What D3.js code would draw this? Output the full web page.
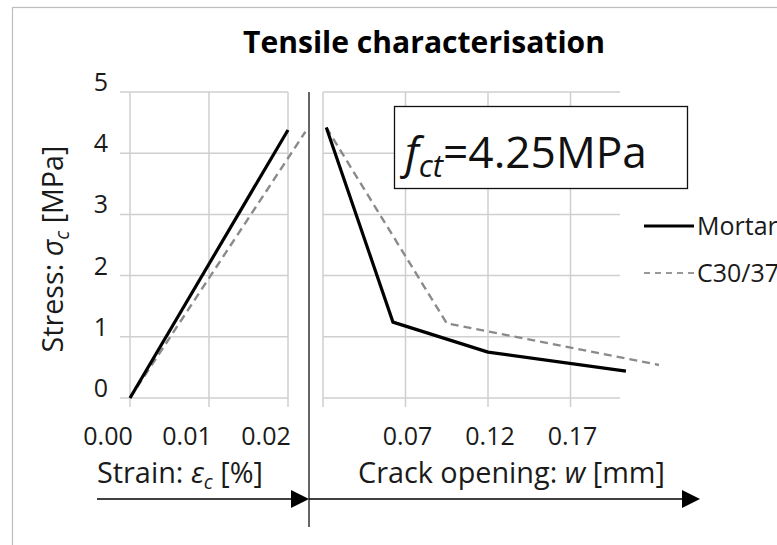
<!DOCTYPE html>
<html><head><meta charset="utf-8">
<script src="https://cdn.jsdelivr.net/npm/d3@7"></script>
<style>html,body{margin:0;padding:0;background:#fff;overflow:hidden}</style>
</head><body>
<script>
// ---- data ----
const stressTicks = [0, 1, 2, 3, 4, 5];
const strainTicks = [0.00, 0.01, 0.02];
const crackGrid = [0.02, 0.07, 0.12, 0.17];
const crackTickLabels = [0.07, 0.12, 0.17];
const seriesNames = ["Mortar", "C30/37"];
// strain branch [strain %, stress MPa]
const mortarStrain = [[0, 0], [0.020, 4.38]];
const c30Strain = [[0, 0], [0.0222, 4.35]];
// crack branch [w mm, stress MPa]
const mortarCrack = [[0.022, 4.42], [0.0624, 1.24], [0.12, 0.75], [0.2036, 0.44]];
const c30Crack = [[0.022, 4.42], [0.095, 1.22], [0.2236, 0.54]];
const fctValue = "4.25";

const W = 777, H = 545;
const FONT = "'Open Sans', 'Noto Sans', sans-serif";
const svg = d3.select("body").append("svg").attr("width", W).attr("height", H)
  .style("font-family", FONT);

// outer frame
svg.append("rect").attr("x", 12.5).attr("y", 7.5).attr("width", 820).attr("height", 600)
  .attr("fill", "#fff").attr("stroke", "#bdbdbd").attr("stroke-width", 1.2);

const y = d3.scaleLinear().domain([0, 5]).range([398, 92]);
const xL = d3.scaleLinear().domain([0, 0.02]).range([130, 288]);
const xR = d3.scaleLinear().domain([0.02, 0.2]).range([323, 620]);

const gridColor = "#cfcfcf";
// left panel grid
const gL = svg.append("g");
gL.selectAll("line.h").data(stressTicks).join("line")
  .attr("x1", xL(0) - 10).attr("x2", xL(0.02)).attr("y1", d => y(d)).attr("y2", d => y(d))
  .attr("stroke", gridColor).attr("stroke-width", 1.5);
gL.selectAll("line.v").data(strainTicks).join("line")
  .attr("x1", d => xL(d)).attr("x2", d => xL(d)).attr("y1", y(5)).attr("y2", y(0) + 9)
  .attr("stroke", gridColor).attr("stroke-width", 1.5);
// right panel grid
const gR = svg.append("g");
gR.selectAll("line.h").data(stressTicks).join("line")
  .attr("x1", xR(0.02)).attr("x2", xR(0.2)).attr("y1", d => y(d)).attr("y2", d => y(d))
  .attr("stroke", gridColor).attr("stroke-width", 1.5);
gR.selectAll("line.v").data(crackGrid).join("line")
  .attr("x1", d => xR(d)).attr("x2", d => xR(d)).attr("y1", y(5)).attr("y2", y(0) + 9)
  .attr("stroke", gridColor).attr("stroke-width", 1.5);

// tick labels
svg.append("g").selectAll("text").data(stressTicks).join("text")
  .attr("x", 108).attr("y", d => y(d) - 1).attr("text-anchor", "end")
  .attr("font-size", 25).attr("fill", "#1a1a1a").text(d => d);
svg.append("g").selectAll("text").data(strainTicks).join("text")
  .attr("x", d => xL(d) - 22).attr("y", 445).attr("text-anchor", "middle")
  .attr("font-size", 25).attr("fill", "#1a1a1a").text(d => d3.format(".2f")(d));
svg.append("g").selectAll("text").data(crackTickLabels).join("text")
  .attr("x", d => xR(d) + 2).attr("y", 445).attr("text-anchor", "middle")
  .attr("font-size", 25).attr("fill", "#1a1a1a").text(d => d3.format(".2f")(d));

// series
const lineL = d3.line().x(d => xL(d[0])).y(d => y(d[1]));
const lineR = d3.line().x(d => xR(d[0])).y(d => y(d[1]));
const dashStyle = {stroke: "#8a8a8a", width: 2.4, dash: "8,5"};
svg.append("path").datum(c30Strain).attr("d", lineL).attr("fill", "none")
  .attr("stroke", dashStyle.stroke).attr("stroke-width", dashStyle.width).attr("stroke-dasharray", dashStyle.dash);
svg.append("path").datum(c30Crack).attr("d", lineR).attr("fill", "none")
  .attr("stroke", dashStyle.stroke).attr("stroke-width", dashStyle.width).attr("stroke-dasharray", dashStyle.dash);
svg.append("path").datum(mortarStrain).attr("d", lineL).attr("fill", "none")
  .attr("stroke", "#000").attr("stroke-width", 3.2).attr("stroke-linejoin", "round");
svg.append("path").datum(mortarCrack).attr("d", lineR).attr("fill", "none")
  .attr("stroke", "#000").attr("stroke-width", 3.2).attr("stroke-linejoin", "round");

// separator
svg.append("line").attr("x1", 309).attr("x2", 309).attr("y1", 92).attr("y2", 527)
  .attr("stroke", "#333").attr("stroke-width", 1.5);

// arrows
function arrow(x1, x2, yy) {
  svg.append("line").attr("x1", x1).attr("x2", x2 - 16).attr("y1", yy).attr("y2", yy)
    .attr("stroke", "#000").attr("stroke-width", 1.6);
  svg.append("path").attr("d", `M${x2 - 18},${yy - 9}L${x2},${yy}L${x2 - 18},${yy + 9}Z`).attr("fill", "#000");
}
arrow(97, 309, 499);
arrow(309, 700, 499);

function fit(sel, target) {
  const w = sel.node().getComputedTextLength();
  const fs = parseFloat(sel.attr("font-size"));
  if (w > 0) sel.attr("font-size", fs * target / w);
}

// title
const title = svg.append("text").attr("x", 424).attr("y", 53).attr("text-anchor", "middle")
  .attr("font-size", 26).attr("font-weight", "bold").attr("fill", "#000").text("Tensile characterisation");
fit(title, 362);

// y axis title
const yt = svg.append("text").attr("transform", "translate(63,249) rotate(-90)")
  .attr("text-anchor", "middle").attr("font-size", 25).attr("fill", "#1a1a1a");
yt.append("tspan").text("Stress: ");
yt.append("tspan").attr("font-style", "italic").text("σ");
yt.append("tspan").attr("font-style", "italic").attr("font-size", "0.68em").attr("dy", "0.3em").text("c");
yt.append("tspan").attr("dy", "-0.2em").text(" [MPa]");
fit(yt, 207);

// x axis titles
const xt1 = svg.append("text").attr("x", 97).attr("y", 483).attr("font-size", 25).attr("fill", "#1a1a1a");
xt1.append("tspan").text("Strain: ");
xt1.append("tspan").attr("font-style", "italic").text("ε");
xt1.append("tspan").attr("font-style", "italic").attr("font-size", "0.68em").attr("dy", "0.3em").text("c");
xt1.append("tspan").attr("dy", "-0.2em").text(" [%]");
fit(xt1, 166);

const xt2 = svg.append("text").attr("x", 358).attr("y", 483).attr("font-size", 25).attr("fill", "#1a1a1a");
xt2.append("tspan").text("Crack opening: ");
xt2.append("tspan").attr("font-style", "italic").text("w");
xt2.append("tspan").text(" [mm]");
fit(xt2, 307);

// annotation box
svg.append("rect").attr("x", 394.5).attr("y", 106.5).attr("width", 293).attr("height", 82)
  .attr("fill", "#fff").attr("stroke", "#111").attr("stroke-width", 1.3);
const ann = svg.append("text").attr("x", 405).attr("y", 168).attr("font-size", 40).attr("fill", "#111");
ann.append("tspan").attr("font-style", "italic").text("f");
ann.append("tspan").attr("font-style", "italic").attr("font-size", "0.7em").attr("dy", "0.3em").text("ct");
ann.append("tspan").attr("dy", "-0.21em").text("=" + fctValue + "MPa");
fit(ann, 242);

// legend (cut off at the right edge, as in the reference)
const legY = [226, 273];
const lg = svg.append("g");
lg.append("line").attr("x1", 644).attr("x2", 694).attr("y1", legY[0]).attr("y2", legY[0])
  .attr("stroke", "#000").attr("stroke-width", 3.2);
lg.append("line").attr("x1", 644).attr("x2", 694).attr("y1", legY[1]).attr("y2", legY[1])
  .attr("stroke", "#999").attr("stroke-width", 2).attr("stroke-dasharray", "6,5");
lg.selectAll("text").data(seriesNames).join("text")
  .attr("x", 697).attr("y", (d, i) => legY[i] + 9).attr("font-size", 25).attr("fill", "#1a1a1a").text(d => d);
</script>
</body></html>
